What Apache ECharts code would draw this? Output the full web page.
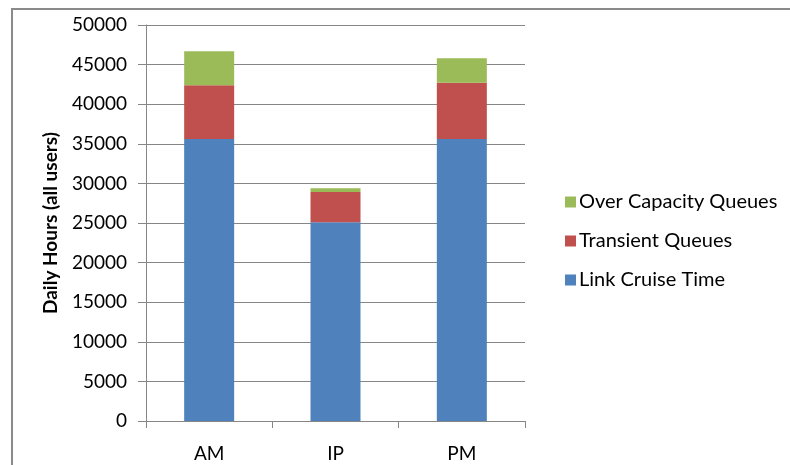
<!DOCTYPE html>
<html><head><meta charset="utf-8">
<script src="https://cdn.jsdelivr.net/npm/echarts@6/dist/echarts.min.js"></script>
<style>html,body{margin:0;padding:0;background:#fff}#c{width:790px;height:465px}</style>
</head><body><div id="c"></div>
<script>
const categories = ['AM', 'IP', 'PM'];
const linkCruiseTime = [35600, 25100, 35600];
const transientQueues = [6800, 3800, 7100];
const overCapacityQueues = [4300, 500, 3100];
const yTicks = [0, 5000, 10000, 15000, 20000, 25000, 30000, 35000, 40000, 45000, 50000];

const FONT = 'Lato';
const chart = echarts.init(document.getElementById('c'), null, {renderer: 'canvas'});
const barStyle = (name, data, color) => ({
  name, type: 'bar', stack: 'total', data, barWidth: 50,
  itemStyle: {color}, emphasis: {disabled: true}
});
chart.setOption({
  animation: false,
  textStyle: {fontFamily: FONT},
  graphic: [{type: 'rect', shape: {x: 12, y: 9, width: 800, height: 500},
    style: {fill: 'none', stroke: '#8a8a8a', lineWidth: 2}, silent: true}],
  grid: {left: 146, right: 265, top: 25, bottom: 44},
  legend: {
    orient: 'vertical', left: 560, top: 187, itemWidth: 11, itemHeight: 11, itemGap: 19,
    icon: 'rect',
    data: ['Over Capacity Queues', 'Transient Queues', 'Link Cruise Time'],
    textStyle: {fontFamily: FONT, fontSize: 20, color: '#000', padding: [0, 0, 0, -2]}
  },
  xAxis: {
    type: 'category', data: categories, boundaryGap: true,
    axisLine: {lineStyle: {color: '#868686', width: 1}},
    axisTick: {show: true, length: 7, lineStyle: {color: '#868686'}},
    axisLabel: {color: '#000', fontSize: 19, fontFamily: FONT, margin: 23}
  },
  yAxis: {
    type: 'value', min: yTicks[0], max: yTicks[yTicks.length - 1], interval: yTicks[1] - yTicks[0],
    name: 'Daily Hours (all users)', nameLocation: 'middle', nameGap: 86,
    nameTextStyle: {fontFamily: FONT, fontSize: 19, fontWeight: 'bold', color: '#000'},
    axisLine: {show: true, lineStyle: {color: '#868686', width: 1}},
    axisTick: {show: true, length: 8, lineStyle: {color: '#868686'}},
    axisLabel: {color: '#000', fontSize: 19, fontFamily: FONT, margin: 19, formatter: v => String(v)},
    splitLine: {show: true, lineStyle: {color: '#868686', width: 1}}
  },
  series: [
    barStyle('Link Cruise Time', linkCruiseTime, '#4F81BD'),
    barStyle('Transient Queues', transientQueues, '#C0504D'),
    barStyle('Over Capacity Queues', overCapacityQueues, '#9BBB59')
  ]
});
</script></body></html>
